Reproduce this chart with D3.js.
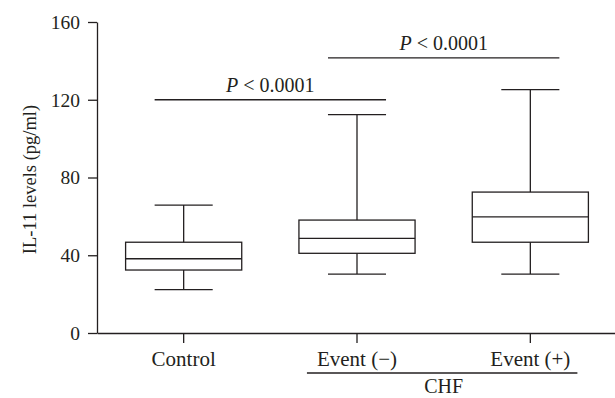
<!DOCTYPE html>
<html>
<head>
<meta charset="utf-8">
<script src="https://cdn.jsdelivr.net/npm/d3@7"></script>
<style>
  body { margin: 0; background: #fff; }
  text { font-family: "Liberation Serif", "DejaVu Serif", serif; fill: #231f20; }
</style>
</head>
<body>
<div id="wrapper"></div>
<script>
// groups on the x axis
const groups = ["Control", "Event (\u2212)", "Event (+)"]
// box plot values (pg/ml)
const whiskerLow = [22.3, 30.3, 30.3]
const quartile1 = [32.4, 41.0, 46.7]
const medians = [38.2, 48.7, 59.7]
const quartile3 = [46.7, 58.1, 72.5]
const whiskerHigh = [65.8, 112.3, 125.2]
// y tick labels
const yTicks = [0, 40, 80, 120, 160]
// significance brackets: from group, to group, height
const comparisons = [
  { from: "Control", to: "Event (\u2212)", level: 120 },
  { from: "Event (\u2212)", to: "Event (+)", level: 141.5 },
]
const subGroupLabel = "CHF"
const subGroup = ["Event (\u2212)", "Event (+)"]

const dataset = groups.map((g, i) => ({
  group: g,
  lo: whiskerLow[i], q1: quartile1[i], med: medians[i], q3: quartile3[i], hi: whiskerHigh[i],
}))

const dims = {
  width: 615,
  height: 398,
  margin: { top: 22, right: -2, bottom: 65, left: 97 },
}
dims.boundWidth = dims.width - dims.margin.left - dims.margin.right
dims.boundHeight = dims.height - dims.margin.top - dims.margin.bottom

const stroke = "#231f20"
const lw = 1.3

const svg = d3.select("#wrapper").append("svg")
  .attr("width", dims.width)
  .attr("height", dims.height)

const bound = svg.append("g")
  .attr("transform", `translate(${dims.margin.left},${dims.margin.top})`)

const xScale = d3.scaleBand()
  .domain(groups)
  .range([0, dims.boundWidth])
const center = g => xScale(g) + xScale.bandwidth() / 2
const boxW = xScale.bandwidth() * 0.67
const capW = boxW / 2

const yScale = d3.scaleLinear()
  .domain([0, 160])
  .range([dims.boundHeight, 0])

// y axis
const yAxis = bound.append("g")
  .call(d3.axisLeft(yScale).tickValues(yTicks).tickSize(9).tickSizeOuter(0).tickPadding(8))
yAxis.select(".domain").attr("stroke", stroke).attr("stroke-width", lw)
yAxis.selectAll(".tick line").attr("stroke", stroke).attr("stroke-width", lw)
yAxis.selectAll(".tick text")
  .style("font-family", '"Liberation Serif", serif')
  .style("font-size", "19.5px")
  .attr("fill", stroke)

// x axis
const xAxis = bound.append("g")
  .attr("transform", `translate(0,${dims.boundHeight})`)
  .call(d3.axisBottom(xScale).tickSize(10).tickSizeOuter(0).tickPadding(8))
xAxis.select(".domain").attr("stroke", stroke).attr("stroke-width", lw)
xAxis.selectAll(".tick line").attr("stroke", stroke).attr("stroke-width", lw)
xAxis.selectAll(".tick text")
  .style("font-family", '"Liberation Serif", serif')
  .style("font-size", "21px")
  .attr("fill", stroke)

// y label
svg.append("text")
  .attr("transform", `translate(36,${dims.margin.top + dims.boundHeight / 2 + 2}) rotate(-90)`)
  .attr("text-anchor", "middle")
  .style("font-size", "18.5px")
  .text("IL-11 levels (pg/ml)")

// boxes
const boxes = bound.selectAll(".box").data(dataset).join("g")
  .attr("class", "box")
  .attr("stroke", stroke)
  .attr("stroke-width", lw)
  .attr("fill", "none")

boxes.append("line") // whisker
  .attr("x1", d => center(d.group)).attr("x2", d => center(d.group))
  .attr("y1", d => yScale(d.lo)).attr("y2", d => yScale(d.hi))
boxes.append("rect")
  .attr("x", d => center(d.group) - boxW / 2)
  .attr("width", boxW)
  .attr("y", d => yScale(d.q3))
  .attr("height", d => yScale(d.q1) - yScale(d.q3))
  .attr("fill", "#fff")
boxes.append("line") // median
  .attr("x1", d => center(d.group) - boxW / 2).attr("x2", d => center(d.group) + boxW / 2)
  .attr("y1", d => yScale(d.med)).attr("y2", d => yScale(d.med))
boxes.append("line") // high cap
  .attr("x1", d => center(d.group) - capW / 2).attr("x2", d => center(d.group) + capW / 2)
  .attr("y1", d => yScale(d.hi)).attr("y2", d => yScale(d.hi))
boxes.append("line") // low cap
  .attr("x1", d => center(d.group) - capW / 2).attr("x2", d => center(d.group) + capW / 2)
  .attr("y1", d => yScale(d.lo)).attr("y2", d => yScale(d.lo))

// significance lines
const comp = bound.selectAll(".comp").data(comparisons).join("g").attr("class", "comp")
comp.append("line")
  .attr("x1", d => center(d.from) - capW / 2)
  .attr("x2", d => center(d.to) + capW / 2)
  .attr("y1", d => yScale(d.level)).attr("y2", d => yScale(d.level))
  .attr("stroke", stroke).attr("stroke-width", lw)
const pText = comp.append("text")
  .attr("x", d => (center(d.from) + center(d.to)) / 2)
  .attr("y", d => yScale(d.level) - 8)
  .attr("text-anchor", "middle")
  .style("font-size", "20px")
pText.append("tspan").style("font-style", "italic").text("P")
pText.append("tspan").text(" < 0.0001")

// CHF bracket under the event groups
const chfY = dims.boundHeight + 40
bound.append("line")
  .attr("x1", center(subGroup[0]) - boxW / 2 + 8)
  .attr("x2", center(subGroup[1]) + boxW / 2 - 11)
  .attr("y1", chfY).attr("y2", chfY)
  .attr("stroke", stroke).attr("stroke-width", lw)
bound.append("text")
  .attr("x", (center(subGroup[0]) + center(subGroup[1])) / 2)
  .attr("y", chfY + 20)
  .attr("text-anchor", "middle")
  .style("font-size", "20px")
  .text(subGroupLabel)
</script>
</body>
</html>
